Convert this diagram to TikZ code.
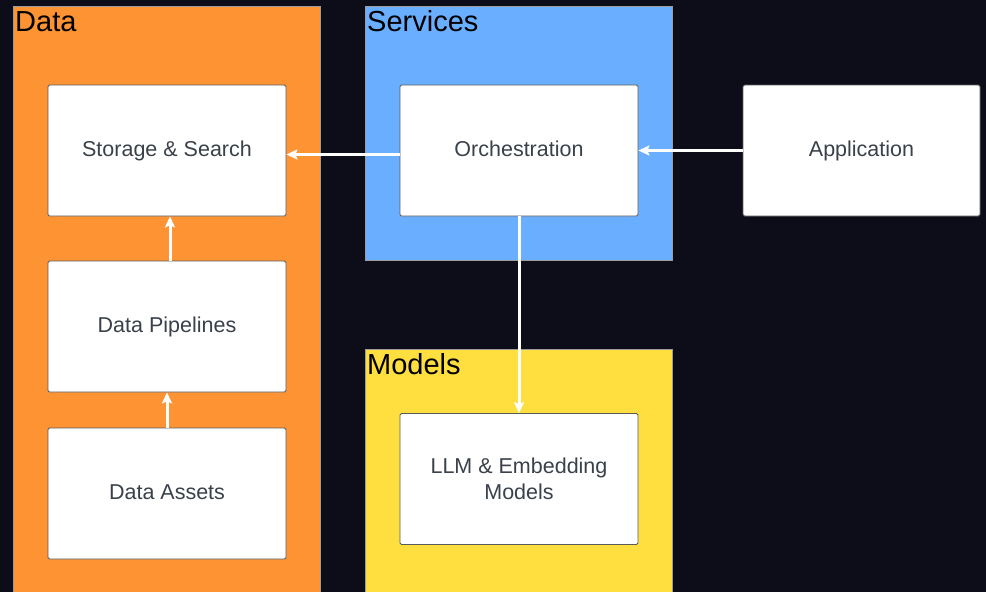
\documentclass[tikz,border=0pt]{standalone}
\usepackage{fontspec}
\setmainfont{Liberation Sans}
\usetikzlibrary{arrows.meta}
\definecolor{bgdark}{HTML}{0D0D1A}
\definecolor{dataorange}{HTML}{FD9332}
\definecolor{svcblue}{HTML}{6AAFFF}
\definecolor{modelyellow}{HTML}{FFDE40}
\definecolor{boxtext}{HTML}{3A414A}
\definecolor{boxedge}{HTML}{5A5A5A}
\tikzset{
  panel/.style={draw=boxedge!60, line width=0.6pt},
  paneltitle/.style={anchor=base west, inner sep=0pt, font=\fontsize{29}{34}\selectfont, text=black},
  comp/.style={draw=boxedge, line width=0.8pt, fill=white, rounded corners=1.5pt,
    minimum width=238pt, minimum height=131pt, inner sep=0pt,
    font=\fontsize{21.5}{26}\selectfont, text=boxtext, align=center},
  oneline/.style={text height=15pt, text depth=4pt},
  flow/.style={draw=white, line width=3pt, -{Stealth[length=11pt,width=10pt,inset=2pt]}}
}
\begin{document}
\begin{tikzpicture}[x=1pt,y=-1pt]
  % canvas
  \fill[bgdark] (0,0) rectangle (986,592);
  \useasboundingbox (0,0) rectangle (986,592);

  % group panels
  \filldraw[panel, fill=dataorange] (13,6) rectangle (320,600);
  \filldraw[panel, fill=svcblue] (365,6) rectangle (672,260);
  \filldraw[panel, fill=modelyellow] (365,349) rectangle (672,600);
  \node[paneltitle] (tdata) at (15,31) {Data};
  \node[paneltitle] (tsvc) at (367,31) {Services};
  \node[paneltitle] (tmod) at (367,374) {Models};

  % components
  \node[comp, oneline] (storage) at (167,150.5) {Storage \& Search};
  \node[comp, oneline] (pipe) at (167,326.5) {Data Pipelines};
  \node[comp, oneline] (assets) at (167,493.5) {Data Assets};
  \node[comp, oneline] (orch) at (519,150.5) {Orchestration};
  \node[comp, oneline, minimum width=237pt] (app) at (861.5,150.5) {Application};
  \node[comp] (llm) at (519,479) {LLM \& Embedding\\Models};

  % data flow
  \draw[flow] ([yshift=-4pt]orch.west) -- ([yshift=-4pt]storage.east);
  \draw[flow] (app.west) -- (orch.east);
  \draw[flow] (orch.south) -- (llm.north);
  \draw[flow] ([xshift=3pt]pipe.north) -- ([xshift=3pt]storage.south);
  \draw[flow] (assets.north) -- (pipe.south);
\end{tikzpicture}
\end{document}
